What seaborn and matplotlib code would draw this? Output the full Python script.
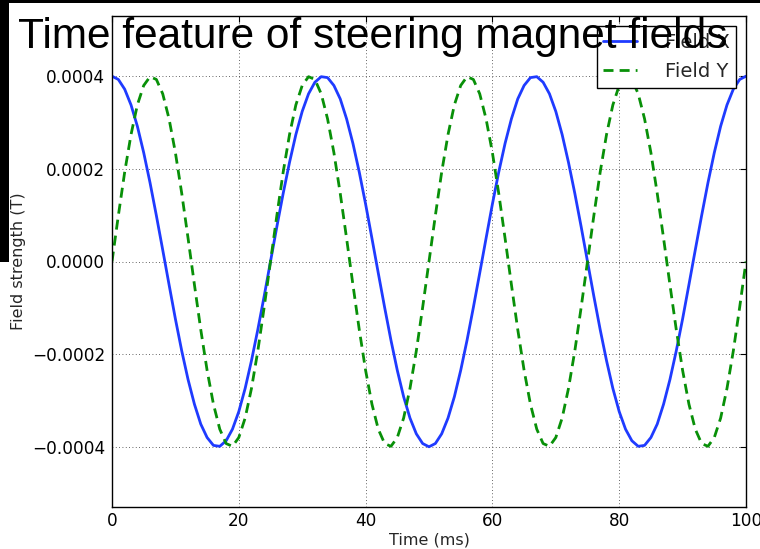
import matplotlib
matplotlib.use("Agg")
import matplotlib.pyplot as plt
from matplotlib.patches import Rectangle
import seaborn as sns
import pandas as pd

# ---- data (in units of 1e-4 T) ----
time_ms = list(range(0, 101))
field_x_e4 = [
    4.00, 3.93, 3.72, 3.38, 2.92, 2.35, 1.70, 0.99, 0.25, -0.50,
    -1.24, -1.93, -2.55, -3.08, -3.51, -3.80, -3.97, -3.99, -3.87, -3.62,
    -3.24, -2.74, -2.14, -1.47, -0.75, 0.00, 0.75, 1.47, 2.14, 2.74,
    3.24, 3.62, 3.87, 3.99, 3.97, 3.80, 3.51, 3.08, 2.55, 1.93,
    1.24, 0.50, -0.25, -0.99, -1.70, -2.35, -2.92, -3.38, -3.72, -3.93,
    -4.00, -3.93, -3.72, -3.38, -2.92, -2.35, -1.70, -0.99, -0.25, 0.50,
    1.24, 1.93, 2.55, 3.08, 3.51, 3.80, 3.97, 3.99, 3.87, 3.62,
    3.24, 2.74, 2.14, 1.47, 0.75, 0.00, -0.75, -1.47, -2.14, -2.74,
    -3.24, -3.62, -3.87, -3.99, -3.97, -3.80, -3.51, -3.08, -2.55, -1.93,
    -1.24, -0.50, 0.25, 0.99, 1.70, 2.35, 2.92, 3.38, 3.72, 3.93,
    4.00,
]
field_y_e4 = [
    0.00, 0.99, 1.93, 2.74, 3.38, 3.80, 3.99, 3.93, 3.62, 3.08,
    2.35, 1.47, 0.50, -0.50, -1.47, -2.35, -3.08, -3.62, -3.93, -3.99,
    -3.80, -3.38, -2.74, -1.93, -0.99, 0.00, 0.99, 1.93, 2.74, 3.38,
    3.80, 3.99, 3.93, 3.62, 3.08, 2.35, 1.47, 0.50, -0.50, -1.47,
    -2.35, -3.08, -3.62, -3.93, -3.99, -3.80, -3.38, -2.74, -1.93, -0.99,
    0.00, 0.99, 1.93, 2.74, 3.38, 3.80, 3.99, 3.93, 3.62, 3.08,
    2.35, 1.47, 0.50, -0.50, -1.47, -2.35, -3.08, -3.62, -3.93, -3.99,
    -3.80, -3.38, -2.74, -1.93, -0.99, 0.00, 0.99, 1.93, 2.74, 3.38,
    3.80, 3.99, 3.93, 3.62, 3.08, 2.35, 1.47, 0.50, -0.50, -1.47,
    -2.35, -3.08, -3.62, -3.93, -3.99, -3.80, -3.38, -2.74, -1.93, -0.99,
    0.00,
]
series_names = ["Field X", "Field Y"]
x_ticks = [0, 20, 40, 60, 80, 100]
y_ticks = [-0.0004, -0.0002, 0.0, 0.0002, 0.0004]
y_tick_labels = ["\u22120.0004", "\u22120.0002", "0.0000", "0.0002", "0.0004"]
title_text = "Time feature of steering magnet fields"
x_label = "Time (ms)"
y_label = "Field strength (T)"

df = pd.DataFrame({
    "t": time_ms,
    "Field X": [v * 1e-4 for v in field_x_e4],
    "Field Y": [v * 1e-4 for v in field_y_e4],
})

sns.set_style("white")
plt.rcParams["font.family"] = ["DejaVu Sans"]

fig = plt.figure(figsize=(7.6, 5.49), dpi=100)
fig.patch.set_facecolor("white")
W, H = 760.0, 549.0
ax = fig.add_axes([112 / W, 1 - 507 / H, (746 - 112) / W, (507 - 16) / H])
ax.set_facecolor("white")

sns.lineplot(data=df, x="t", y="Field X", ax=ax, color="#1f3bff", lw=2.0,
             label=series_names[0])
sns.lineplot(data=df, x="t", y="Field Y", ax=ax, color="#089008", lw=2.0,
             linestyle=(0, (3.6, 2.2)), label=series_names[1])

ax.set_xlim(0, 100)
ax.set_ylim(-0.00053, 0.00053)
ax.set_xticks(x_ticks)
ax.set_xticklabels([str(v) for v in x_ticks])
ax.set_yticks(y_ticks)
ax.set_yticklabels(y_tick_labels)
fs = 12.2
ax.tick_params(direction="in", length=4, width=0.8, top=True, right=True,
               labelsize=fs, colors="black")
ax.tick_params(axis="x", pad=3.5)
ax.tick_params(axis="y", pad=5)
ax.set_xlabel(x_label, fontsize=11.5, labelpad=2)
ax.set_ylabel(y_label, fontsize=11.5, labelpad=4)
ax.grid(True, color="#333333", linestyle=(0, (1, 3)), linewidth=0.6)
for s in ax.spines.values():
    s.set_visible(True)
    s.set_color("black")
    s.set_linewidth(1.0)

leg = ax.legend(loc="upper right", fontsize=14, frameon=True, fancybox=False,
                framealpha=1, edgecolor="black", borderaxespad=0.5,
                handlelength=1.75, handletextpad=1.4, borderpad=0.35,
                labelspacing=0.55)
leg.get_frame().set_linewidth(1.0)

fig.text(18 / W, 1 - 48 / H, title_text, fontsize=30.5,
         family=["Liberation Sans", "DejaVu Sans"], va="baseline", ha="left",
         color="black", zorder=10)

# slide background remnants
fig.patches.append(Rectangle((0, 1 - 3 / H), 1, 3 / H, transform=fig.transFigure,
                             facecolor="black", edgecolor="none", zorder=20))
fig.patches.append(Rectangle((0, 1 - 262 / H), 9 / W, 262 / H, transform=fig.transFigure,
                             facecolor="black", edgecolor="none", zorder=20))

fig.savefig("out.png", dpi=100)
